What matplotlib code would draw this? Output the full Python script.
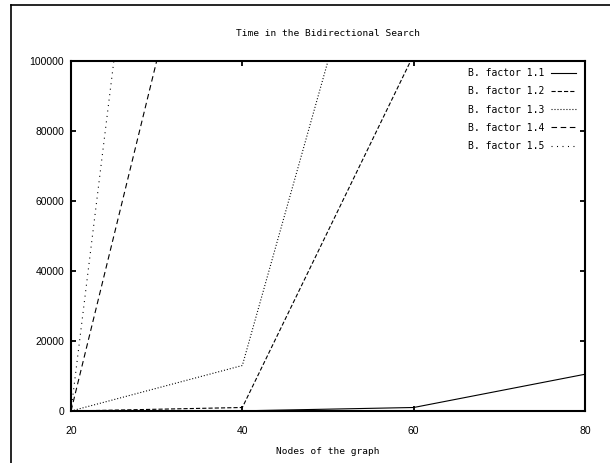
import numpy as np
import matplotlib
matplotlib.use("Agg")
import matplotlib.pyplot as plt
from matplotlib.lines import Line2D

# ---- data ----
nodes = [20, 40, 60, 80]
bf_11 = [0, 50, 1000, 10500]
bf_12 = [0, 1000, 101800, np.nan]
bf_13 = [0, 13000, 187000, np.nan]
bf_14 = [0, 200000, np.nan, np.nan]
bf_15 = [0, 400000, np.nan, np.nan]
labels = ["B. factor 1.1", "B. factor 1.2", "B. factor 1.3", "B. factor 1.4", "B. factor 1.5"]
xticks = [20, 40, 60, 80]
yticks = [0, 20000, 40000, 60000, 80000, 100000]

plt.rcParams['lines.scale_dashes'] = False
W, H = 610, 463
fig = plt.figure(figsize=(W / 100, H / 100), dpi=100)
fig.subplots_adjust(left=71 / W, right=585 / W, top=1 - 61 / H, bottom=1 - 411 / H)
ax = fig.add_subplot(111)

mono = "DejaVu Sans Mono"
series = [bf_11, bf_12, bf_13, bf_14, bf_15]
styles = [
    dict(linestyle="-"),
    dict(dashes=(3, 1.5)),
    dict(dashes=(0.75, 1.4)),
    dict(dashes=(4, 2.6)),
    dict(dashes=(0.75, 3.2)),
]
for s, lab, st in zip(series, labels, styles):
    ax.plot(nodes, s, color="black", lw=0.8, label=lab, **st)

ax.set_xlim(20, 80)
ax.set_ylim(0, 100000)
ax.set_xticks(xticks)
ax.set_yticks(yticks)
ax.set_xticklabels([str(v) for v in xticks], family="Liberation Sans", fontsize=7.5)
ax.set_yticklabels([str(v) for v in yticks], family="Liberation Sans", fontsize=7.5)
ax.tick_params(direction="in", length=3.5, width=1.3, top=True, right=True)
ax.tick_params(axis="x", pad=11)
ax.tick_params(axis="y", pad=5)
for sp in ax.spines.values():
    sp.set_linewidth(1.5)

leg = ax.legend(loc="upper right", bbox_to_anchor=((576 - 71) / 514, 1 - 7 / 350),
                frameon=False, markerfirst=False, handlelength=2.6, handletextpad=0.7,
                labelspacing=0.85, borderpad=0, borderaxespad=0,
                prop=dict(family=mono, size=7))

fig.text(328 / W, 1 - 33 / H, "Time in the Bidirectional Search", family=mono,
         fontsize=6.8, ha="center", va="center")
fig.text(328 / W, 1 - 452 / H, "Nodes of the graph", family=mono,
         fontsize=6.8, ha="center", va="center")

# outer frame (partially cropped)
fig.add_artist(Line2D([11 / W, 1.0], [1 - 5 / H, 1 - 5 / H], color="black", lw=1.2,
                      transform=fig.transFigure))
fig.add_artist(Line2D([11 / W, 11 / W], [0, 1 - 5 / H], color="black", lw=1.2,
                      transform=fig.transFigure))

fig.savefig("out.png", dpi=100)
